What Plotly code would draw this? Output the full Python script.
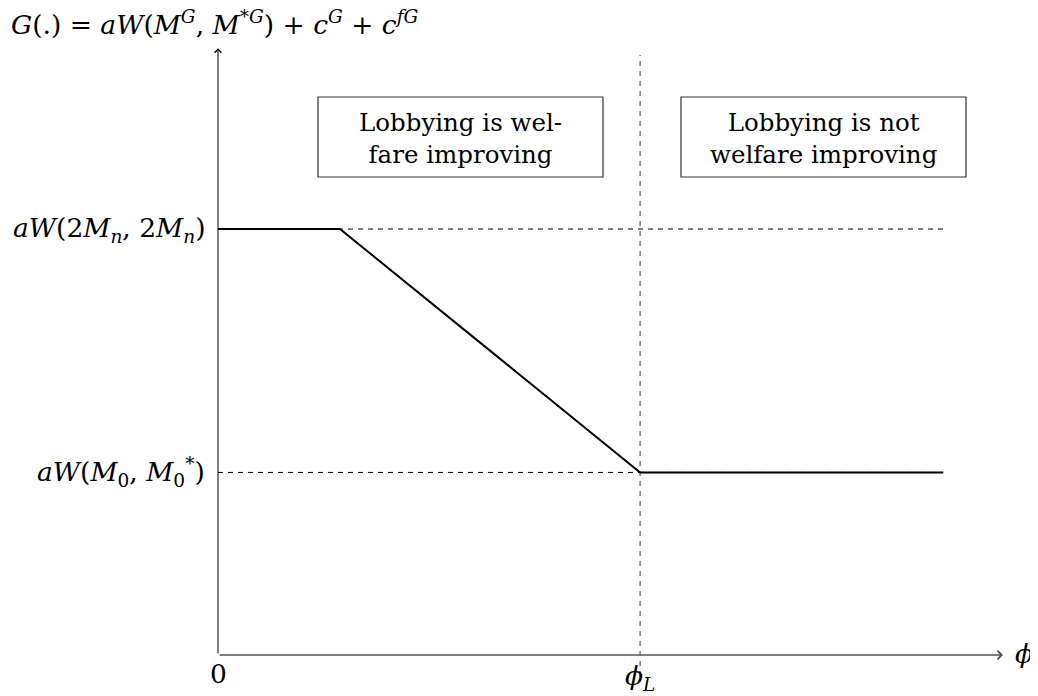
import plotly.graph_objects as go

# ---- data ----
phi = [0.0, 2.0, 6.92, 11.89]          # kink points of G(.)
G = [7.0, 7.0, 3.0, 3.0]               # G(.) values
levels = [7.0, 3.0]                    # reference levels (dashed)
level_labels = [
    "<i>aW</i>(2<i>M</i><sub><i>n</i></sub>, 2<i>M</i><sub><i>n</i></sub>)",
    "<i>aW</i>(<i>M</i><sub>0</sub>, <i>M</i><sub>0</sub><sup>*</sup>)",
]
phi_L = 6.92
phi_axis_end = 12.87
G_axis_end = 9.97
x_tick_vals = [0.0, phi_L]
x_tick_labels = ["0", "<i>ϕ</i><sub><i>L</i></sub>"]
box_texts = ["Lobbying is wel-<br>fare improving", "Lobbying is not<br>welfare improving"]
y_title = ("<i>G</i>(.) = <i>aW</i>(<i>M</i><sup><i>G</i></sup>, <i>M</i><sup>*<i>G</i></sup>)"
           " + <i>c</i><sup><i>G</i></sup> + <i>c</i><sup><i>fG</i></sup>")
x_title = "<i>ϕ</i>"

# ---- layout geometry (page pixels; the page body has an 8px margin) ----
PAGE_W, PAGE_H = 1038, 696
BODY = 8
W, H = PAGE_W - BODY, PAGE_H - BODY
OX, OY = 218, 655          # origin in page pixels
SX, SY = 61.0, 426.0 / 7   # pixels per unit


def px_x(p):
    return (p - OX) / SX


def px_y(p):
    return (OY - p) / SY


MATH_FONT = "DejaVu Serif"
MFS = 26.5
TEXT_FONT = "DejaVu Serif"
TFS = 24.5

fig = go.Figure()

# dashed reference levels
for lv in levels:
    fig.add_trace(go.Scatter(x=[0, phi[-1]], y=[lv, lv], mode="lines",
                             line=dict(color="black", width=1, dash="5px,5px"),
                             hoverinfo="skip", showlegend=False))
# vertical dashed at phi_L
fig.add_trace(go.Scatter(x=[phi_L, phi_L], y=[px_y(676), px_y(55)], mode="lines",
                         line=dict(color="#7f7f7f", width=1.5, dash="5px,5px"),
                         hoverinfo="skip", showlegend=False))
# main curve
fig.add_trace(go.Scatter(x=phi, y=G, mode="lines",
                         line=dict(color="black", width=2),
                         hoverinfo="skip", showlegend=False))

annotations = []
# axes arrows
annotations.append(dict(x=phi_axis_end, y=0, ax=0, ay=0, xref="x", yref="y",
                        axref="x", ayref="y", text="", showarrow=True,
                        arrowhead=4, arrowsize=1.2, arrowwidth=1.4, arrowcolor="#555"))
annotations.append(dict(x=0, y=G_axis_end, ax=0, ay=0, xref="x", yref="y",
                        axref="x", ayref="y", text="", showarrow=True,
                        arrowhead=4, arrowsize=1.3, arrowwidth=1, arrowcolor="black"))

# level labels
for lv, lab in zip(levels, level_labels):
    annotations.append(dict(x=px_x(207), y=lv, xref="x", yref="y", text=lab,
                            showarrow=False, xanchor="right", yanchor="middle",
                            font=dict(family=MATH_FONT, size=MFS, color="black")))
# x tick labels
tick_y = [px_y(673), px_y(677)]
for tv, tl, ty in zip(x_tick_vals, x_tick_labels, tick_y):
    annotations.append(dict(x=tv, y=ty, xref="x", yref="y", text=tl,
                            showarrow=False, xanchor="center", yanchor="middle",
                            font=dict(family=MATH_FONT, size=MFS, color="black")))
# axis titles
annotations.append(dict(x=px_x(1013), y=px_y(653), xref="x", yref="y", text=x_title,
                        showarrow=False, xanchor="left", yanchor="middle",
                        font=dict(family=MATH_FONT, size=MFS, color="black")))
annotations.append(dict(x=px_x(8.5), y=px_y(23), xref="x", yref="y", text=y_title,
                        showarrow=False, xanchor="left", yanchor="middle",
                        font=dict(family=MATH_FONT, size=MFS, color="black")))

# boxes
boxes_px = [(318, 603), (681, 966)]
shapes = []
for (x0, x1), txt in zip(boxes_px, box_texts):
    shapes.append(dict(type="rect", xref="x", yref="y",
                       x0=px_x(x0), x1=px_x(x1), y0=px_y(97), y1=px_y(177),
                       line=dict(color="#333", width=1.2), fillcolor="white",
                       layer="above"))
    annotations.append(dict(x=px_x((x0 + x1) / 2), y=px_y(138), xref="x", yref="y",
                            text=txt, showarrow=False, xanchor="center",
                            yanchor="middle", align="center",
                            font=dict(family=TEXT_FONT, size=TFS, color="black")))

fig.update_layout(
    width=W, height=H, margin=dict(l=0, r=0, t=0, b=0),
    paper_bgcolor="white", plot_bgcolor="white",
    xaxis=dict(range=[px_x(BODY), px_x(PAGE_W)], visible=False, fixedrange=True),
    yaxis=dict(range=[px_y(PAGE_H), px_y(BODY)], visible=False, fixedrange=True),
    shapes=shapes, annotations=annotations, showlegend=False,
)

fig.write_html("out.html")
